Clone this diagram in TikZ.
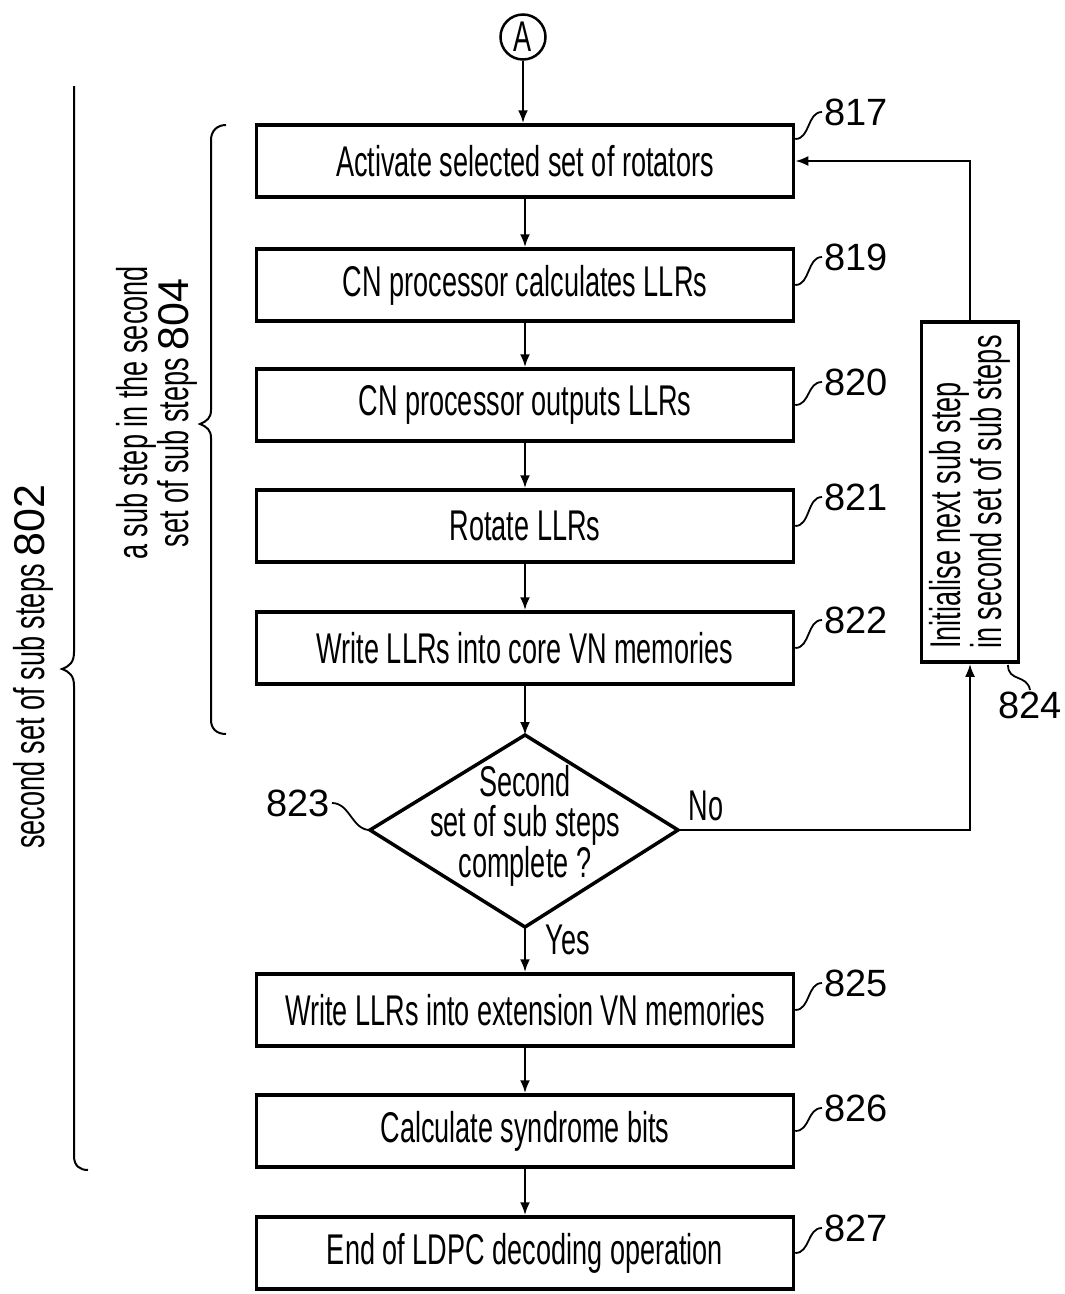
\documentclass[tikz,border=0pt]{standalone}
\usepackage{fontspec}
\setmainfont{Liberation Sans}
\newfontfamily\condf[FakeStretch=0.63]{Liberation Sans}
\newfontfamily\numf{Liberation Sans}
\usetikzlibrary{arrows.meta}
\tikzset{
  box/.style={draw, line width=3.5pt, minimum width=537pt, minimum height=72pt, inner sep=0pt, font=\condf\fontsize{43}{40}\selectfont},
  conn/.style={line width=2.5pt, -{Latex[length=13pt,width=10pt]}},
  lead/.style={line width=1.8pt},
  brace/.style={line width=2pt},
  num/.style={font=\numf\fontsize{38}{38}\selectfont, inner sep=2pt},
  lbl/.style={font=\condf\fontsize{43}{40}\selectfont, inner sep=0pt},
}
\begin{document}
\begin{tikzpicture}[x=1pt,y=-1pt]
\useasboundingbox (0,0) rectangle (1065,1294);

% start connector
\node[circle, draw, line width=2.5pt, minimum size=45pt, lbl] (A) at (523,37) {A};

% boxes
\node[box] (b817) at (525,161) {Activate selected set of rotators};
\node[box] (b819) at (525,285) {CN processor calculates LLRs};
\node[box] (b820) at (525,405) {CN processor outputs LLRs};
\node[box] (b821) at (525,526) {Rotate LLRs};
\node[box] (b822) at (525,648) {Write LLRs into core VN memories};
\node[box] (b825) at (525,1010) {Write LLRs into extension VN memories};
\node[box] (b826) at (525,1131) {Calculate syndrome bits};
\node[box] (b827) at (525,1253) {End of LDPC decoding operation};

% side box 824
\node[draw, line width=3.5pt, rotate=90, minimum width=340pt, minimum height=97pt, inner sep=0pt, align=left, lbl] (b824) at (970,492) {Initialise next sub step\\in second set of sub steps};

% decision diamond
\coordinate (dt) at (525,735);
\coordinate (dr) at (678,830);
\coordinate (db) at (525,927);
\coordinate (dl) at (370,830);
\draw[line width=3.5pt, line join=miter] (dt) -- (dr) -- (db) -- (dl) -- cycle;
\node[lbl, align=center] (dtxt) at (525,826) {Second\\set of sub steps\\complete ?};

% connectors
\draw[conn] (A) -- (A |- b817.north);
\draw[conn] (b817) -- (b819);
\draw[conn] (b819) -- (b820);
\draw[conn] (b820) -- (b821);
\draw[conn] (b821) -- (b822);
\draw[conn] (b822) -- (dt);
\draw[conn] (db) -- (b825);
\draw[conn] (b825) -- (b826);
\draw[conn] (b826) -- (b827);
\draw[conn] (dr) -| (b824.west);
\draw[conn] (b824.east) |- (b817.east);

\node[lbl] (no) at (706,806) {No};
\node[lbl] (yes) at (568,940) {Yes};

% reference numerals
\node[num, anchor=west] (n817) at (822,112) {817};
\node[num, anchor=west] (n819) at (822,257) {819};
\node[num, anchor=west] (n820) at (822,382) {820};
\node[num, anchor=west] (n821) at (822,497) {821};
\node[num, anchor=west] (n822) at (822,620) {822};
\node[num, anchor=west] (n825) at (822,983) {825};
\node[num, anchor=west] (n826) at (822,1108) {826};
\node[num, anchor=west] (n827) at (822,1228) {827};
\node[num, anchor=north] (n824) at (1030,690) {824};
\node[num, anchor=east] (n823) at (332,803) {823};

\draw[lead] ([yshift=22pt]b817.east) .. controls +(15,0) and +(-15,0) .. (n817.west);
\draw[lead] (b819.east) .. controls +(15,0) and +(-15,0) .. (n819.west);
\draw[lead] (b820.east) .. controls +(15,0) and +(-15,0) .. (n820.west);
\draw[lead] (b821.east) .. controls +(15,0) and +(-15,0) .. (n821.west);
\draw[lead] (b822.east) .. controls +(15,0) and +(-15,0) .. (n822.west);
\draw[lead] (b825.east) .. controls +(15,0) and +(-15,0) .. (n825.west);
\draw[lead] (b826.east) .. controls +(15,0) and +(-15,0) .. (n826.west);
\draw[lead] (b827.east) .. controls +(15,0) and +(-15,0) .. (n827.west);
\coordinate (l824) at (1008,665);
\draw[lead] (l824) .. controls (1008,682) and (1027,674) .. (n824.north);
\draw[lead] (n823.east) .. controls +(18,0) and +(-18,0) .. (dl);

% braces
\draw[brace] (74,86) -- (74,652) .. controls (74,662) and (70,666) .. (62,669)
  .. controls (70,672) and (74,676) .. (74,686) -- (74,1156)
  .. controls (74,1166) and (80,1170) .. (88,1170);
\draw[brace] (226,125) .. controls (217,125) and (211,131) .. (211,140) -- (211,410)
  .. controls (211,418) and (207,421) .. (200,424)
  .. controls (207,427) and (211,430) .. (211,438) -- (211,720)
  .. controls (211,729) and (217,734) .. (226,734);

\node[lbl, rotate=90] (t802) at (33,667) {second set of sub steps {\numf 802}};
\node[lbl, rotate=90, align=center] (t804) at (157,413) {a sub step in the second\\set of sub steps {\numf 804}};
\end{tikzpicture}
\end{document}
